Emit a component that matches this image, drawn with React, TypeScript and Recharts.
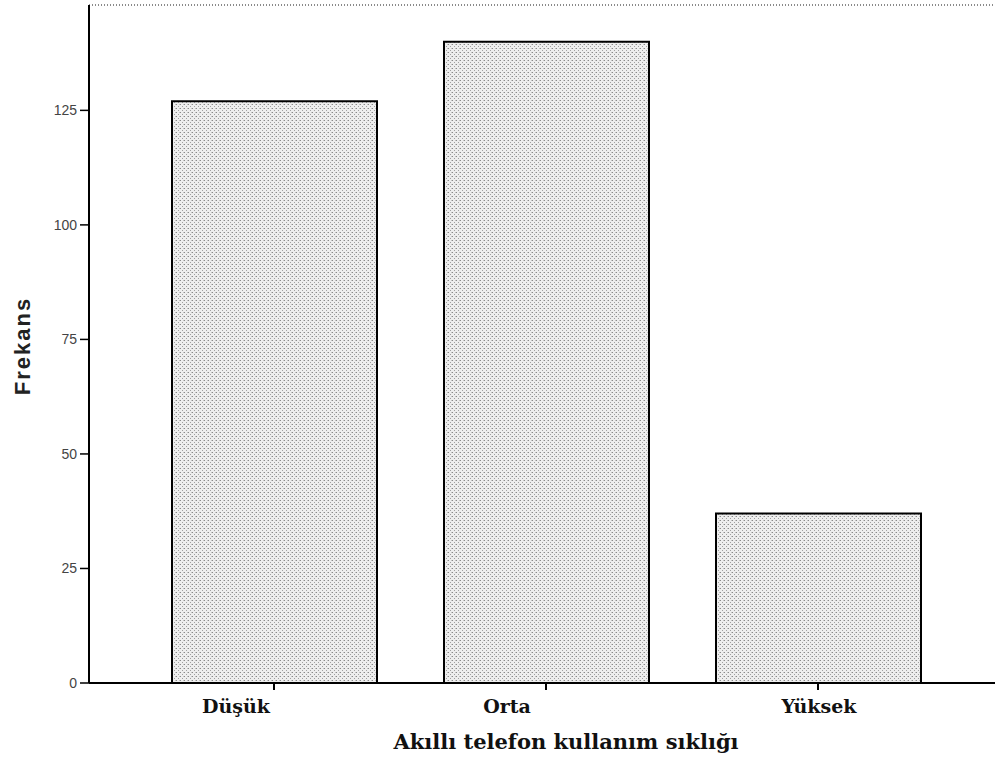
import React from 'react';
import { BarChart, Bar, XAxis, YAxis, ReferenceLine } from 'recharts';

// kategoriler ve frekanslar
const categories = ['Düşük', 'Orta', 'Yüksek'];
const frequencies = [127, 140, 37];
const yTicks = [0, 25, 50, 75, 100, 125];
const yMax = 148;

const data = categories.map((name, i) => ({ name, frekans: frequencies[i] }));

const serif = "'DejaVu Serif', 'Liberation Serif', serif";

// taranmış görüntüde etiketler biraz kaymış
const labelShift = [-38, -39, 1];

const XTick = ({ x, y, payload, index }: any) => (
  <text
    x={x + (labelShift[index] ?? 0)}
    y={y + 21}
    textAnchor="middle"
    style={{ fontFamily: serif, fontWeight: 'bold', fontSize: 19 }}
    fill="#111"
  >
    {payload.value}
  </text>
);

export default function App() {
  return (
    <div style={{ position: 'absolute', left: 0, top: 0, width: 995, height: 760, background: '#fff' }}>
      <svg width={0} height={0} style={{ position: 'absolute' }}>
        <defs>
          <pattern id="stipple" width={4} height={4} patternUnits="userSpaceOnUse">
            <rect width={4} height={4} fill="#eeeeee" />
            <rect x={0} y={0} width={1} height={1} fill="#8a8a8a" />
            <rect x={2} y={2} width={1} height={1} fill="#a0a0a0" />
            <rect x={3} y={0} width={1} height={1} fill="#c4c4c4" />
          </pattern>
        </defs>
      </svg>
      <BarChart
        width={995}
        height={760}
        data={data}
        margin={{ top: 5, right: 0, bottom: 0, left: 0 }}
      >
        <ReferenceLine y={yMax} stroke="#666" strokeDasharray="1 2" strokeWidth={1.5} />
        <XAxis
          dataKey="name"
          height={77}
          padding={{ left: 49, right: 41 }}
          axisLine={{ stroke: '#000', strokeWidth: 2 }}
          tickLine={{ stroke: '#000', strokeWidth: 2 }}
          tickSize={7}
          tick={<XTick />}
          interval={0}
          label={() => (
            <text
              x={566}
              y={749}
              textAnchor="middle"
              style={{ fontFamily: serif, fontWeight: 'bold', fontSize: 21 }}
              fill="#111"
            >
              Akıllı telefon kullanım sıklığı
            </text>
          )}
        />
        <YAxis
          width={89}
          domain={[0, yMax]}
          ticks={yTicks}
          allowDataOverflow
          axisLine={{ stroke: '#000', strokeWidth: 2 }}
          tickLine={{ stroke: '#000', strokeWidth: 1.5 }}
          tickSize={9}
          tickMargin={3}
          tick={{ fontFamily: "'Liberation Sans', Arial, sans-serif", fontSize: 14, fill: '#444' }}
          label={() => (
            <text
              x={22}
              y={346}
              transform="rotate(-90 22 346)"
              textAnchor="middle"
              dominantBaseline="central"
              style={{ fontFamily: "'Liberation Sans', Arial, sans-serif", fontWeight: 'bold', fontSize: 22, letterSpacing: 2 }}
              fill="#222"
            >
              Frekans
            </text>
          )}
        />
        <Bar
          dataKey="frekans"
          barSize={205}
          fill="url(#stipple)"
          stroke="#000"
          strokeWidth={2}
          isAnimationActive={false}
        />
      </BarChart>
    </div>
  );
}
